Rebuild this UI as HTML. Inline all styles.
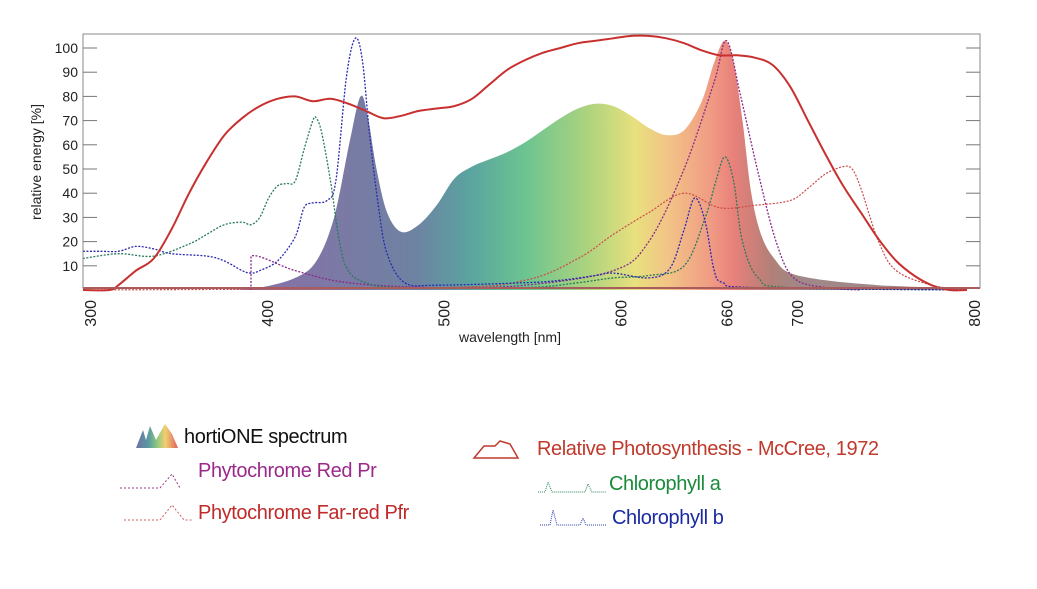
<!DOCTYPE html>
<html><head><meta charset="utf-8"><style>
body{margin:0;background:#fff;width:1037px;height:589px;overflow:hidden;font-family:"Liberation Sans",sans-serif}
.t{position:absolute;font-size:20px;white-space:nowrap;letter-spacing:-0.4px}
</style></head><body>
<svg id="s" width="1037" height="589" style="position:absolute;left:0;top:0" xmlns="http://www.w3.org/2000/svg">
<defs>
<linearGradient id="g" gradientUnits="userSpaceOnUse" x1="250" y1="0" x2="800" y2="0">
<stop offset="0" stop-color="#8a6fa8"/>
<stop offset="0.3" stop-color="#6e82a2"/>
<stop offset="0.4" stop-color="#5aa4a0"/>
<stop offset="0.5" stop-color="#6cc490"/>
<stop offset="0.62" stop-color="#b0d47e"/>
<stop offset="0.7" stop-color="#e8e07e"/>
<stop offset="0.76" stop-color="#f2c486"/>
<stop offset="0.84" stop-color="#f09a84"/>
<stop offset="0.88" stop-color="#e8807a"/>
<stop offset="0.95" stop-color="#b08078"/>
<stop offset="1" stop-color="#a08888"/>
</linearGradient>
<linearGradient id="g2" x1="0" y1="0" x2="1" y2="0">
<stop offset="0" stop-color="#6e6fa8"/>
<stop offset="0.3" stop-color="#5a9aa0"/>
<stop offset="0.5" stop-color="#8cc880"/>
<stop offset="0.7" stop-color="#f0d070"/>
<stop offset="1" stop-color="#e06060"/>
</linearGradient>
</defs>
<g id="plot"></g>
<rect x="83" y="34" width="897" height="254" fill="none" stroke="#888" stroke-width="1"/>
<g id="ax" font-family="Liberation Sans" font-size="14" fill="#222"></g>
<text x="510" y="342" font-size="14" text-anchor="middle" fill="#222">wavelength [nm]</text>
<text transform="translate(41,162) rotate(-90)" font-size="14" text-anchor="middle" fill="#222">relative energy [%]</text>
<path d="M136,448 L143,430 L146,440 L150,426 L156,440 L165,424 L172,434 L178,448 Z" fill="url(#g2)"/>
<path d="M474,458 L484,446 L495,446 L500,441 L510,444 L518,458 Z" fill="none" stroke="#c0392b" stroke-width="1.5"/>
<path d="M120,488 L160,488 L172,474 L180,488" fill="none" stroke="#9a3a8a" stroke-dasharray="2,2"/>
<path d="M124,520 L160,520 L172,505 L184,520 L192,520" fill="none" stroke="#d06060" stroke-dasharray="2,2"/>
<path d="M538,492 L545,492 L548,482 L552,492 L585,492 L588,484 L592,492 L606,492" fill="none" stroke="#2a8a5a" stroke-dasharray="1,1"/>
<path d="M540,525 L550,525 L553,510 L557,525 L580,525 L583,518 L586,525 L606,525" fill="none" stroke="#2a3ab0" stroke-dasharray="1,1"/>
</svg>
<div class="t" style="left:184px;top:426px;color:#111">hortiONE spectrum</div>
<div class="t" style="left:198px;top:460px;color:#9a2a8a">Phytochrome Red Pr</div>
<div class="t" style="left:198px;top:502px;color:#c02a2a">Phytochrome Far-red Pfr</div>
<div class="t" style="left:537px;top:438px;color:#c0392b">Relative Photosynthesis - McCree, 1972</div>
<div class="t" style="left:609px;top:473px;color:#1a8a3a">Chlorophyll a</div>
<div class="t" style="left:612px;top:507px;color:#1a2aa0">Chlorophyll b</div>
<script>
const X=n=>83+(n-300)*1.768, Y=v=>290-2.42*v;
function path(d){let p=d.map(a=>[X(a[0]),Y(a[1])]);let s="M"+p[0][0].toFixed(1)+","+p[0][1].toFixed(1);
for(let i=0;i<p.length-1;i++){const p0=p[i-1]||p[i],p1=p[i],p2=p[i+1],p3=p[i+2]||p2;
if(p1[0]===p2[0]){s+="L"+p2[0].toFixed(1)+","+p2[1].toFixed(1);continue;}
const c1=[p1[0]+(p2[0]-p0[0])/6,p1[1]+(p2[1]-p0[1])/6],c2=[p2[0]-(p3[0]-p1[0])/6,p2[1]-(p3[1]-p1[1])/6];
s+="C"+c1.map(v=>v.toFixed(1))+" "+c2.map(v=>v.toFixed(1))+" "+p2.map(v=>v.toFixed(1));}return s;}
const NS="http://www.w3.org/2000/svg",g=document.getElementById("plot");
function add(d,attrs){const e=document.createElementNS(NS,"path");e.setAttribute("d",d);for(const k in attrs)e.setAttribute(k,attrs[k]);g.appendChild(e);}
const horti=[[380,0],[400,1],[420,5],[432,12],[442,30],[451,62],[457,80],[461,72],[466,50],[472,32],[480,24],[490,27],[500,35],[510,46],[520,51],[530,54],[540,57],[550,61],[560,66],[570,71],[580,75],[590,77],[600,76],[610,72],[620,67],[630,64],[640,66],[650,78],[657,94],[663,103],[668,94],[673,70],[678,40],[684,22],[692,12],[700,7],[720,4],[750,2],[780,1],[800,0]];
add(path(horti)+"Z",{fill:"url(#g)"});
const pfr=[[300,0],[500,1],[550,4],[580,13],[600,23],[620,32],[640,40],[660,34],[680,35],[700,37],[710,42],[720,48],[730,51],[735,50],[740,42],[750,20],[760,8],[780,2],[800,0]];
add(path(pfr),{fill:"none",stroke:"#d04848","stroke-width":1.2,"stroke-dasharray":"2,1.5"});
const pr=[[395,0],[395,14],[420,8],[450,3],[500,1],[550,2],[600,8],[620,20],[640,50],[657,86],[664,103],[672,80],[682,48],[692,20],[702,5],[720,1],[740,0]];
add(path(pr),{fill:"none",stroke:"#8a2a8a","stroke-width":1.3,"stroke-dasharray":"2,1.5"});
const ca=[[300,13],[320,15],[340,14],[360,19],[370,23],[380,27],[390,28],[395,27],[400,30],[405,38],[410,43],[415,44],[420,45],[425,58],[430,70],[432,71],[435,65],[440,45],[445,20],[450,8],[460,3],[480,1],[550,1],[580,3],[600,5],[620,6],[640,10],[652,30],[658,45],[663,55],[668,45],[673,20],[682,5],[700,1],[800,0]];
add(path(ca),{fill:"none",stroke:"#2a7a5a","stroke-width":1.3,"stroke-dasharray":"2,1.5"});
const cb=[[300,16],[310,16],[320,16],[330,18],[340,17],[350,15],[370,14],[380,12],[390,8],[395,7],[400,8],[410,12],[420,22],[425,34],[430,36],[438,37],[443,45],[449,88],[454,104],[458,95],[462,65],[467,35],[472,15],[482,3],[500,2],[550,3],[570,4],[590,6],[600,7],[620,5],[632,9],[640,25],[646,38],[652,28],[657,8],[662,3],[680,1],[800,0]];
add(path(cb),{fill:"none",stroke:"#2a2ab0","stroke-width":1.3,"stroke-dasharray":"2,1.5"});
const mc=[[300,0],[315,0],[320,2],[330,8],[340,13],[350,25],[360,40],[370,53],[380,64],[390,71],[400,76],[410,79],[420,80],[430,78],[440,79],[450,77],[460,74],[470,71],[480,72],[490,74],[500,75],[510,76],[520,79],[530,85],[540,91],[550,95],[560,98],[570,100],[580,102],[590,103],[600,104],[610,105],[620,105],[630,104],[640,102],[650,99],[660,97],[670,97],[680,96],[690,93],[700,84],[710,70],[720,56],[730,43],[740,32],[750,21],[760,12],[770,6],[780,2],[790,0],[800,0]];
add(path(mc),{fill:"none",stroke:"#c83030","stroke-width":2});
add("M83,288 L980,288",{stroke:"#c83030","stroke-width":2});
const ax=document.getElementById("ax");
for(let v=10;v<=100;v+=10){const y=Y(v);ax.insertAdjacentHTML("beforeend",`<line x1="83" x2="97" y1="${y}" y2="${y}" stroke="#777"/><line x1="966" x2="980" y1="${y}" y2="${y}" stroke="#777"/><text x="78" y="${y+5}" text-anchor="end">${v}</text>`);}
for(const n of [300,400,500,600,660,700,800]){const x=X(n);ax.insertAdjacentHTML("beforeend",`<text transform="translate(${x+13},300) rotate(-90)" text-anchor="end" font-size="16">${n}</text>`);}
</script>
</body></html>
